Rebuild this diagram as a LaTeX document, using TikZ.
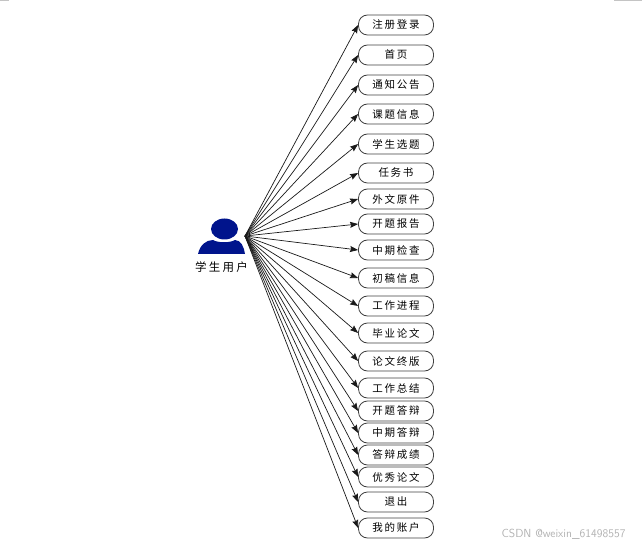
\documentclass[tikz,border=0pt]{standalone}
\usepackage{fontspec}
\usepackage{tikz}
\usepackage{xcolor}
\usetikzlibrary{positioning, arrows.meta}
\newfontfamily\cjkfont[LetterSpace=16]{Noto Sans CJK SC}
\newfontfamily\cjkwide[LetterSpace=20]{Noto Sans CJK SC}
\definecolor{User_Blue}{HTML}{00148C}
\definecolor{Box_Edge}{HTML}{404040}
\definecolor{Mark_Gray}{HTML}{C4C4C4}

\begin{document}
\begin{tikzpicture}[x=1pt, y=-1pt,
  arr/.style={-{Stealth[length=8pt, width=6pt, inset=1pt]}, line width=0.7pt, black!90},
  menubox/.style={draw=Box_Edge, fill=white, rounded corners=9pt, line width=0.8pt,
    minimum height=20pt, minimum width=75pt, inner sep=0pt, font=\cjkfont\fontsize{10.5}{12}\selectfont}
]
  \useasboundingbox (0,0) rectangle (642,545);

  % Edge marks
  \draw[Mark_Gray, line width=1pt] (0,0.5) -- (9,0.5);
  \draw[Mark_Gray, line width=1pt] (614,0.5) -- (642,0.5);

  % User icon
  \fill[User_Blue] (224.5,229) ellipse [x radius=13.5, y radius=10.5];
  \fill[User_Blue] (198,254) .. controls (200,245) and (206,240) .. (213,240)
    .. controls (218,243) and (230,243) .. (235,240)
    .. controls (241,240) and (244,247) .. (245,254) -- cycle;
  \node[font=\cjkwide\fontsize{11.5}{13}\selectfont] (userlabel) at (221.5,267) {学生用户};
  \coordinate (hub) at (245,236);

  % Menu items
  \foreach \i/\yy/\txt in {
    1/25/注册登录, 2/55/首页, 3/85/通知公告, 4/114/课题信息, 5/144/学生选题,
    6/173/任务书, 7/199/外文原件, 8/224/开题报告, 9/250/中期检查, 10/278/初稿信息,
    11/306/工作进程, 12/333/毕业论文, 13/361/论文终版, 14/388/工作总结, 15/411/开题答辩,
    16/433/中期答辩, 17/455/答辩成绩, 18/477/优秀论文, 19/502/退出, 20/528/我的账户} {
    \node[menubox] (item\i) at (396,\yy) {\txt};
    \draw[arr] (hub) -- (item\i.west);
  }

  % Watermark
  \node[font=\sffamily\fontsize{11.7}{13}\selectfont, text=black!30, anchor=east] (mark) at (629,534) {CSDN @weixin\_61498557};
\end{tikzpicture}
\end{document}
